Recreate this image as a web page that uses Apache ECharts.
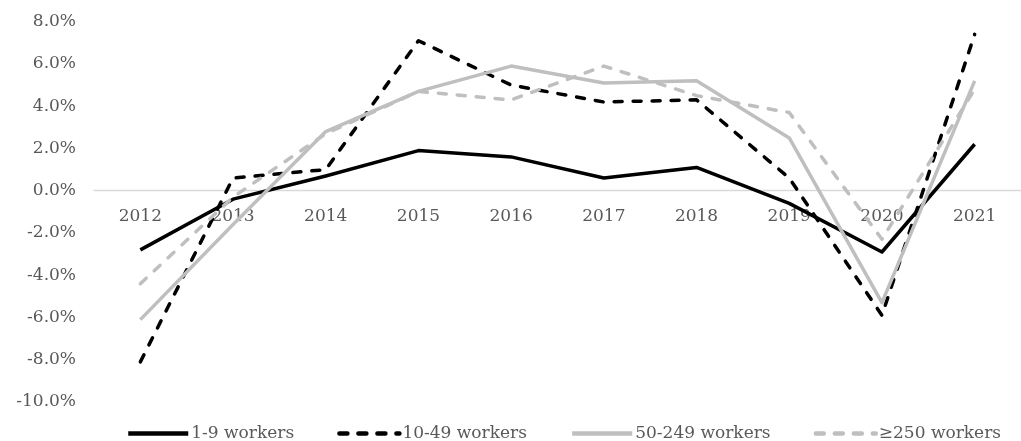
<!DOCTYPE html>
<html>
<head>
<meta charset="utf-8">
<script src="https://cdn.jsdelivr.net/npm/echarts@6/dist/echarts.min.js"></script>
<style>
  html, body { margin: 0; padding: 0; background: #fff; }
  #chart { width: 1021px; height: 441px; }
</style>
</head>
<body>
<div id="chart"></div>
<script>
// Annual change by firm size (percent)
const years = ['2012', '2013', '2014', '2015', '2016', '2017', '2018', '2019', '2020', '2021'];
const micro = [-2.8, -0.4, 0.7, 1.9, 1.6, 0.6, 1.1, -0.6, -2.9, 2.2];      // 1-9 workers
const small = [-8.1, 0.6, 1.0, 7.1, 5.0, 4.2, 4.3, 0.6, -5.9, 7.4];       // 10-49 workers
const medium = [-6.1, -1.6, 2.8, 4.7, 5.9, 5.1, 5.2, 2.5, -5.3, 5.2];     // 50-249 workers
const large = [-4.4, -0.3, 2.7, 4.7, 4.3, 5.9, 4.5, 3.7, -2.3, 4.8];      // ≥250 workers
const seriesNames = ['1-9 workers', '10-49 workers', '50-249 workers', '≥250 workers'];
const yTicks = { min: -10, max: 8, step: 2 };

const FONT = 'DejaVu Serif';
const TEXT = '#595959';
const BLACK = '#000000';
const GREY = '#bfbfbf';
const DASH = [8, 11];

// plot box
const GRID_TOP = 21.7;
const GRID_HEIGHT = 380.3;
// the category axis sits on the zero line
const zeroOffset = -GRID_HEIGHT * (0 - yTicks.min) / (yTicks.max - yTicks.min);

function lineSeries(name, data, color, dashed) {
  return {
    name: name,
    type: 'line',
    data: data,
    symbol: 'none',
    showSymbol: false,
    lineStyle: {
      color: color,
      width: 3.5,
      type: dashed ? DASH : 'solid',
      cap: dashed ? 'round' : 'butt',
      join: 'round'
    },
    itemStyle: { color: color },
    emphasis: { disabled: true },
    animation: false
  };
}

const chart = echarts.init(document.getElementById('chart'), null, { renderer: 'canvas' });
chart.setOption({
  backgroundColor: '#ffffff',
  animation: false,
  grid: { left: 94, top: GRID_TOP, height: GRID_HEIGHT, width: 940 },
  legend: {
    top: 420,
    left: 121,
    itemWidth: 60,
    itemHeight: 14,
    itemGap: 43,
    itemStyle: { opacity: 0 },
    lineStyle: { width: 4.5 },
    textStyle: { fontFamily: FONT, fontSize: 17, color: TEXT, padding: [0, 0, 0, -2] },
    data: seriesNames
  },
  xAxis: {
    type: 'category',
    data: years,
    boundaryGap: true,
    position: 'bottom',
    offset: zeroOffset,
    axisLine: { onZero: false, lineStyle: { color: '#d9d9d9', width: 1.3 } },
    axisTick: { show: false },
    axisLabel: { fontFamily: FONT, fontSize: 17, color: TEXT, margin: 17 },
    splitLine: { show: false }
  },
  yAxis: {
    type: 'value',
    min: yTicks.min,
    max: yTicks.max,
    interval: yTicks.step,
    axisLine: { show: false },
    axisTick: { show: false },
    splitLine: { show: false },
    axisLabel: {
      fontFamily: FONT, fontSize: 17, color: TEXT, margin: 18,
      formatter: v => v.toFixed(1) + '%'
    }
  },
  series: [
    lineSeries(seriesNames[0], micro, BLACK, false),
    lineSeries(seriesNames[1], small, BLACK, true),
    lineSeries(seriesNames[2], medium, GREY, false),
    lineSeries(seriesNames[3], large, GREY, true)
  ]
});
</script>
</body>
</html>
